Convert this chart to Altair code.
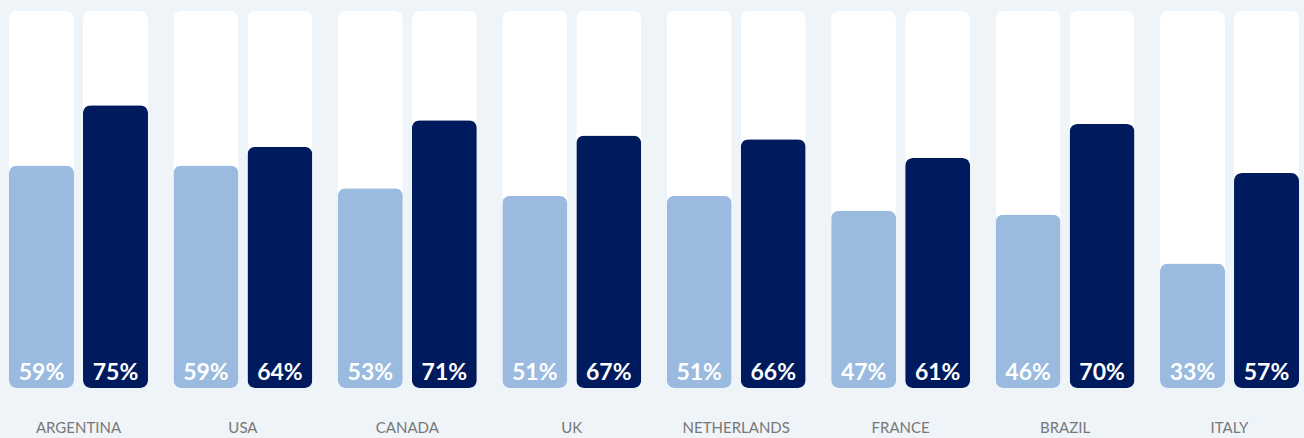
import altair as alt
import pandas as pd

countries = ["ARGENTINA", "USA", "CANADA", "UK", "NETHERLANDS", "FRANCE", "BRAZIL", "ITALY"]
light = [59, 59, 53, 51, 51, 47, 46, 33]
dark = [75, 64, 71, 67, 66, 61, 70, 57]
series = ["A", "B"]

rows = []
for c, l, d in zip(countries, light, dark):
    rows.append({"country": c, "series": "A", "value": l, "full": 100, "label": f"{l}%"})
    rows.append({"country": c, "series": "B", "value": d, "full": 100, "label": f"{d}%"})
df = pd.DataFrame(rows)

x = alt.X(
    "country:N",
    sort=countries,
    scale=alt.Scale(paddingInner=0.1547, paddingOuter=0.0547, range=[0, 1308]),
    axis=alt.Axis(
        title=None, ticks=False, domain=False, labelAngle=0, grid=False,
        labelFont="Lato", labelFontSize=15, labelColor="#777777", labelPadding=32,
    ),
)
xo = alt.XOffset("series:N", sort=series, scale=alt.Scale(paddingInner=0.122, paddingOuter=0))

base = alt.Chart(df)

bg = base.mark_bar(color="white", cornerRadius=8).encode(
    x=x, xOffset=xo,
    y=alt.Y("full:Q", scale=alt.Scale(domain=[0, 100]), axis=None),
)

bars = base.mark_bar(cornerRadius=8).encode(
    x=x, xOffset=xo,
    y=alt.Y("value:Q", scale=alt.Scale(domain=[0, 100]), axis=None),
    color=alt.Color("series:N", scale=alt.Scale(domain=series, range=["#9abae0", "#001a5e"]), legend=None),
)

text = base.mark_text(
    baseline="alphabetic", dy=-8, font="Lato", fontWeight="bold", fontSize=23, color="white"
).encode(
    x=x, xOffset=xo,
    y=alt.datum(0),
    text="label:N",
)

chart = (
    alt.layer(bg, bars, text)
    .properties(
        width=1304, height=377, background="#eff4f9",
        padding={"left": 0, "top": 11, "right": 0, "bottom": 50},
        autosize=alt.AutoSizeParams(type="none"),
    )
    .configure_view(stroke=None)
)

chart.save("out.html", embed_options={"renderer": "svg", "actions": False})
